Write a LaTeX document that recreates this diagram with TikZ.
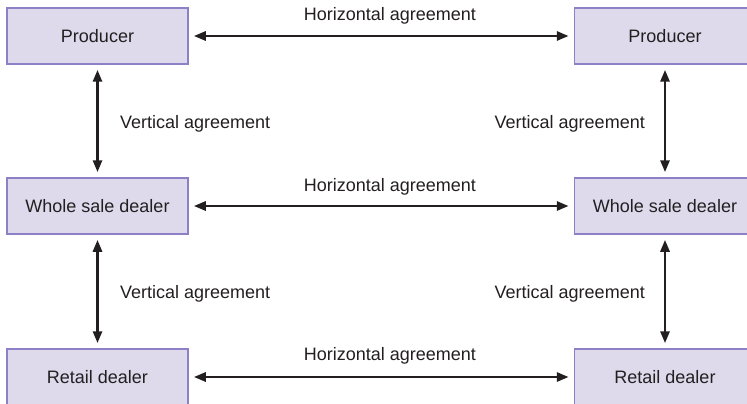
\documentclass[tikz,border=0pt]{standalone}
\usepackage{fontspec}
\setmainfont{Liberation Sans}
\usetikzlibrary{arrows.meta}
\definecolor{boxfill}{HTML}{DEDAEC}
\definecolor{boxline}{HTML}{8E80C6}
\definecolor{ink}{HTML}{231F20}
\begin{document}
\begin{tikzpicture}[x=1pt,y=-1pt,
  party/.style={draw=boxline, line width=1.5pt, fill=boxfill,
    minimum width=181pt, minimum height=56pt, inner sep=0pt,
    font=\fontsize{18}{21}\selectfont, text=ink},
  link/.style={draw=ink, line width=2.8pt,
    {Triangle[length=12pt,width=9pt]}-{Triangle[length=12pt,width=9pt]},
    shorten >=5pt, shorten <=5pt},
  lbl/.style={font=\fontsize{18}{21}\selectfont, text=ink, inner sep=0pt}]
  \useasboundingbox (0,0) rectangle (747,404);
  \clip (0,0) rectangle (747,404);

  % market participants
  \node[party] (p1) at (97.5,36)  {Producer};
  \node[party] (w1) at (97.5,206) {Whole sale dealer};
  \node[party] (r1) at (97.5,377) {Retail dealer};
  \node[party] (p2) at (665,36)  {Producer};
  \node[party] (w2) at (665,206) {Whole sale dealer};
  \node[party] (r2) at (665,377) {Retail dealer};

  % horizontal agreements
  \draw[link] (p1) -- (p2);
  \draw[link] (w1) -- (w2);
  \draw[link] (r1) -- (r2);
  \node[lbl, anchor=base] (h1) at (390,21)  {Horizontal agreement};
  \node[lbl, anchor=base] (h2) at (390,191) {Horizontal agreement};
  \node[lbl, anchor=base] (h3) at (390,360) {Horizontal agreement};

  % vertical agreements
  \draw[link] (p1) -- (w1);
  \draw[link] (w1) -- (r1);
  \draw[link] (p2) -- (w2);
  \draw[link] (w2) -- (r2);
  \node[lbl, anchor=base west] (v1) at (120,128) {Vertical agreement};
  \node[lbl, anchor=base west] (v2) at (120,298) {Vertical agreement};
  \node[lbl, anchor=base east] (v3) at (645,128) {Vertical agreement};
  \node[lbl, anchor=base east] (v4) at (645,298) {Vertical agreement};
\end{tikzpicture}
\end{document}
